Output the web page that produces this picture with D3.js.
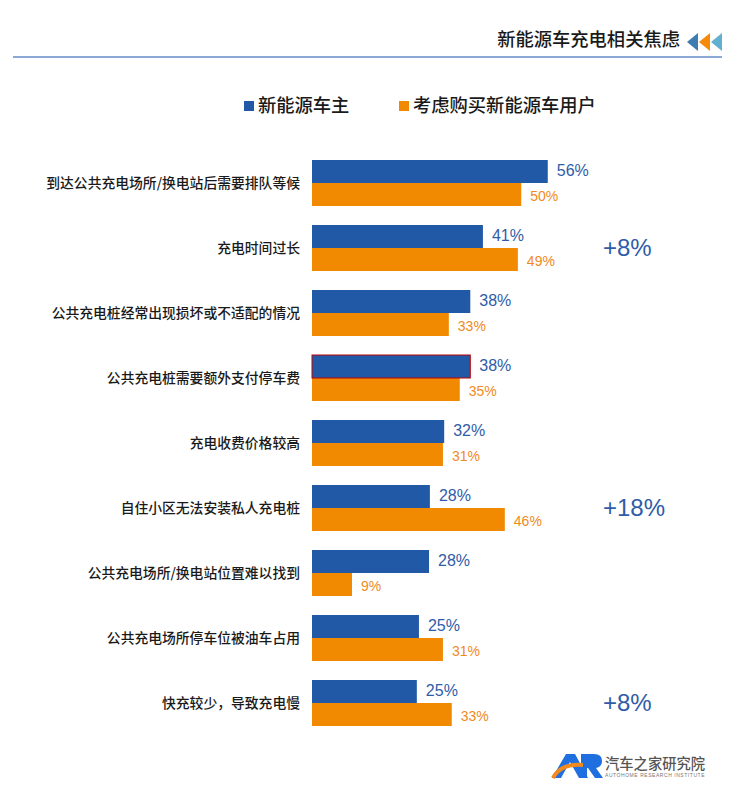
<!DOCTYPE html>
<html>
<head>
<meta charset="utf-8">
<script src="https://cdn.jsdelivr.net/npm/d3@7"></script>
<style>
body { margin: 0; background: #fff; }
text { font-family: "Noto Sans CJK SC", sans-serif; }
.num { font-family: "Liberation Sans", Arial, sans-serif; }
</style>
</head>
<body>
<div id="chart"></div>
<script>
var categories = [
    '到达公共充电场所/换电站后需要排队等候',
    '充电时间过长',
    '公共充电桩经常出现损坏或不适配的情况',
    '公共充电桩需要额外支付停车费',
    '充电收费价格较高',
    '自住小区无法安装私人充电桩',
    '公共充电场所/换电站位置难以找到',
    '公共充电场所停车位被油车占用',
    '快充较少，导致充电慢'
];
var owners = [56, 40.6, 37.6, 37.6, 31.4, 28, 27.8, 25.4, 24.9];
var ownerLabels = ['56%', '41%', '38%', '38%', '32%', '28%', '28%', '25%', '25%'];
var buyers = [49.7, 48.9, 32.5, 35.1, 31.1, 45.8, 9.5, 31.1, 33.2];
var buyerLabels = ['50%', '49%', '33%', '35%', '31%', '46%', '9%', '31%', '33%'];
var gaps = ['', '+8%', '', '', '', '+18%', '', '', '+8%'];
var seriesNames = ['新能源车主', '考虑购买新能源车用户'];

var blue = '#2159a6', orange = '#f18a00';

var svg = d3.select('#chart').append('svg')
    .attr('width', 740)
    .attr('height', 796);

// header
svg.append('text').attr('x', 680).attr('y', 46)
    .attr('text-anchor', 'end').attr('font-size', 18.3).attr('font-weight', 500)
    .attr('fill', '#1a1a1a').text('新能源车充电相关焦虑');

svg.append('line').attr('x1', 13).attr('x2', 722).attr('y1', 57).attr('y2', 57)
    .attr('stroke', '#8aa9d4').attr('stroke-width', 2);

[[687, '#3f7cb0'], [699, '#f58a0b'], [711, '#62b0d0']].forEach(function (t) {
    svg.append('path')
        .attr('d', 'M' + t[0] + ',42L' + (t[0] + 11) + ',33V51Z')
        .attr('fill', t[1]);
});

// legend
[[244, blue], [399, orange]].forEach(function (l, i) {
    svg.append('rect').attr('x', l[0]).attr('y', 101).attr('width', 10).attr('height', 10).attr('fill', l[1]);
    svg.append('text').attr('x', l[0] + 14).attr('y', 112)
        .attr('font-size', 18.3).attr('font-weight', 500).attr('fill', '#1a1a1a')
        .text(seriesNames[i]);
});

// chart
var x = d3.scaleLinear().domain([0, 100]).range([312, 733]);
var y = d3.scaleBand().domain(categories).range([160, 726]).paddingInner(19 / 65).paddingOuter(0);
var barH = y.bandwidth() / 2;

var row = svg.selectAll('g.row').data(categories).enter().append('g')
    .attr('class', 'row')
    .attr('transform', function (d) { return 'translate(0,' + y(d) + ')'; });

row.append('text')
    .attr('x', 300).attr('y', barH).attr('dy', '0.36em')
    .attr('text-anchor', 'end').attr('font-size', 13.8).attr('font-weight', 500)
    .attr('fill', '#1a1a1a')
    .text(function (d) { return d; });

// orange first so the red outline on the blue bar stays on top
row.append('rect')
    .attr('x', x(0)).attr('y', barH)
    .attr('width', function (d, i) { return x(buyers[i]) - x(0); })
    .attr('height', barH)
    .attr('fill', orange);

row.append('rect')
    .attr('x', x(0)).attr('y', 0)
    .attr('width', function (d, i) { return x(owners[i]) - x(0); })
    .attr('height', barH)
    .attr('fill', blue)
    .attr('stroke', function (d, i) { return i === 3 ? '#c00000' : 'none'; })
    .attr('stroke-width', 1);

row.append('text').attr('class', 'num')
    .attr('x', function (d, i) { return x(owners[i]) + 9; })
    .attr('y', barH / 2 - 1).attr('dy', '0.36em')
    .attr('font-size', 16).attr('fill', '#2f5ca8')
    .text(function (d, i) { return ownerLabels[i]; });

row.append('text').attr('class', 'num')
    .attr('x', function (d, i) { return x(buyers[i]) + 9; })
    .attr('y', barH * 1.5 + 1).attr('dy', '0.36em')
    .attr('font-size', 14).attr('fill', '#f18a1c')
    .text(function (d, i) { return buyerLabels[i]; });

row.append('text').attr('class', 'num')
    .attr('x', 603).attr('y', barH - 1).attr('dy', '0.36em')
    .attr('font-size', 24).attr('fill', '#2f5ca8')
    .text(function (d, i) { return gaps[i]; });

// logo
svg.append('path').attr('d', 'M552,778L566,754H575L588,778H579L570,762L561,778Z').attr('fill', '#1f6fe0');
svg.append('path').attr('d', 'M581,754H594Q602,754 602,761Q602,767 596,768L603,778H595L588,768H587V778H581Z').attr('fill', '#1f6fe0');
svg.append('path').attr('d', 'M553,778Q561,763 583,765').attr('fill', 'none').attr('stroke', '#f18a1c').attr('stroke-width', 4);
svg.append('text').attr('x', 605).attr('y', 769)
    .attr('font-size', 14.3).attr('font-weight', 500).attr('fill', '#555').text('汽车之家研究院');
svg.append('text').attr('class', 'num').attr('x', 605).attr('y', 777)
    .attr('font-size', 5).attr('letter-spacing', 0.55).attr('fill', '#777').text('AUTOHOME RESEARCH INSTITUTE');
</script>
</body>
</html>
